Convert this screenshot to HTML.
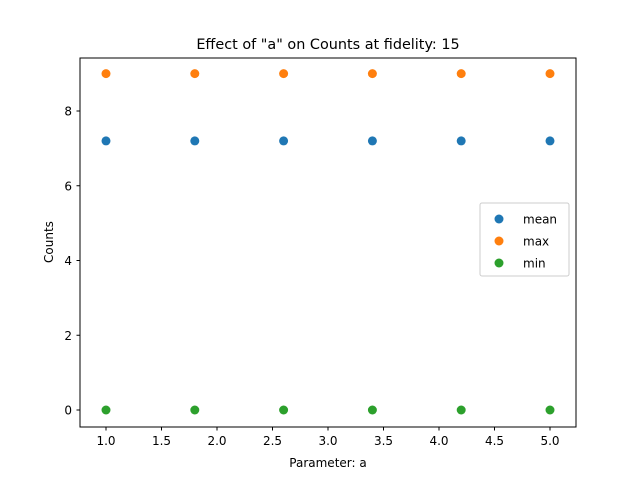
<!DOCTYPE html>
<html><head><meta charset="utf-8"><style>
body{margin:0;background:#fff}
svg{display:block;font-family:"DejaVu Sans","Liberation Sans",sans-serif}
</style></head><body>
<svg id="chart" width="640" height="480">
<rect width="640" height="480" fill="#fff"/>
<text x="328" y="49" font-size="14.4" text-anchor="middle">Effect of "a" on Counts at fidelity: 15</text>
<g id="ticks"></g>
<g id="marks"></g>
<rect x="80" y="58" width="496" height="369" fill="none" stroke="#000" stroke-width="1"/>
<text x="328" y="467" font-size="12" text-anchor="middle">Parameter: a</text>
<text x="53" y="242" font-size="12" text-anchor="middle" transform="rotate(-90 53 242)">Counts</text>
<g>
<rect x="480" y="203" width="89" height="73" rx="2" fill="#fff" fill-opacity="0.8" stroke="#ccc"/>
<circle cx="499" cy="219" r="4.5" fill="#1f77b4"/><text x="523" y="223.5" font-size="12">mean</text>
<circle cx="499" cy="241" r="4.5" fill="#ff7f0e"/><text x="523" y="245.5" font-size="12">max</text>
<circle cx="499" cy="263" r="4.5" fill="#2ca02c"/><text x="523" y="267.5" font-size="12">min</text>
</g>
</svg>
<script>
const xValues=[1.0,1.8,2.6,3.4,4.2,5.0];
const meanValues=[7.2,7.2,7.2,7.2,7.2,7.2];
const maxValues=[9,9,9,9,9,9];
const minValues=[0,0,0,0,0,0];
const xTicks=[1.0,1.5,2.0,2.5,3.0,3.5,4.0,4.5,5.0];
const yTicks=[0,2,4,6,8];
const NS="http://www.w3.org/2000/svg";
function sx(v){return 106+(v-1)*111;}
function sy(v){return 410-v*37.375;}
const tg=document.getElementById('ticks');
xTicks.forEach(t=>{
 const l=document.createElementNS(NS,'line');
 l.setAttribute('x1',sx(t));l.setAttribute('x2',sx(t));l.setAttribute('y1',427);l.setAttribute('y2',430.5);l.setAttribute('stroke','#000');
 
 
 tg.appendChild(l);
 const tx=document.createElementNS(NS,'text');
 tx.setAttribute('x',sx(t));tx.setAttribute('y',445);tx.setAttribute('font-size','12');tx.setAttribute('text-anchor','middle');
 tx.textContent=t.toFixed(1);
 
 
 tg.appendChild(tx);
});
yTicks.forEach(t=>{
 const l=document.createElementNS(NS,'line');
 l.setAttribute('x1',76.5);l.setAttribute('x2',80);l.setAttribute('y1',sy(t));l.setAttribute('y2',sy(t));l.setAttribute('stroke','#000');
 
 
 tg.appendChild(l);
 const tx=document.createElementNS(NS,'text');
 tx.setAttribute('x',72);tx.setAttribute('y',sy(t)+4.5);tx.setAttribute('font-size','12');tx.setAttribute('text-anchor','end');
 tx.textContent=String(t);
 
 
 tg.appendChild(tx);
});
const mg=document.getElementById('marks');
[[meanValues,'#1f77b4','mean'],[maxValues,'#ff7f0e','max'],[minValues,'#2ca02c','min']].forEach(([vals,c,n])=>{
 vals.forEach((v,i)=>{
  const p=document.createElementNS(NS,'circle');
  p.setAttribute('cx',sx(xValues[i]));p.setAttribute('cy',sy(v));p.setAttribute('r',4.5);p.setAttribute('fill',c);
  
  
  mg.appendChild(p);
 });
});
</script>
</body></html>
